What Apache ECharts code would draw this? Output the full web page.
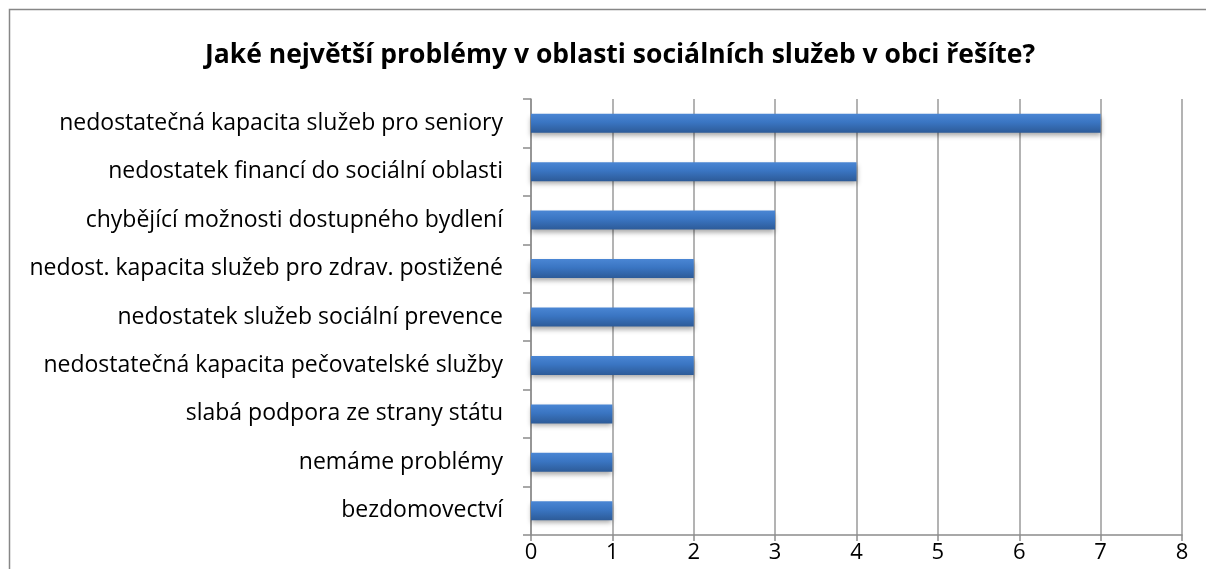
<!DOCTYPE html>
<html>
<head>
<meta charset="utf-8">
<script src="https://cdn.jsdelivr.net/npm/echarts@6/dist/echarts.min.js"></script>
<style>
  html, body { margin: 0; padding: 0; background: #fff; }
  #chart { width: 1206px; height: 569px; }
</style>
</head>
<body>
<div id="chart"></div>
<script>
  // kategorie odshora dolů
  var categories = [
    'nedostatečná kapacita služeb pro seniory',
    'nedostatek financí do sociální oblasti',
    'chybějící možnosti dostupného bydlení',
    'nedost. kapacita služeb pro zdrav. postižené',
    'nedostatek služeb sociální prevence',
    'nedostatečná kapacita pečovatelské služby',
    'slabá podpora ze strany státu',
    'nemáme problémy',
    'bezdomovectví'
  ];
  var values = [7, 4, 3, 2, 2, 2, 1, 1, 1];
  var xTicks = [0, 1, 2, 3, 4, 5, 6, 7, 8];

  var fontName = '"Open Sans", Lato, sans-serif';
  var myChart = echarts.init(document.getElementById('chart'));
  var option = {
    backgroundColor: '#fff',
    animation: false,
    title: {
      text: 'Jaké největší problémy v oblasti sociálních služeb v obci řešíte?',
      left: 615,
      textAlign: 'center',
      top: 37,
      textStyle: {
        fontFamily: fontName,
        fontSize: 26.5,
        fontWeight: 'bold',
        color: '#000'
      }
    },
    graphic: [{
      type: 'rect',
      shape: { x: 9.5, y: 9.5, width: 1220, height: 600 },
      style: { fill: 'none', stroke: '#878787', lineWidth: 1.5 },
      silent: true
    }],
    grid: {
      left: 531,
      right: 24,
      top: 99,
      bottom: 34
    },
    xAxis: {
      type: 'value',
      min: xTicks[0],
      max: xTicks[xTicks.length - 1],
      interval: 1,
      axisLine: { show: true, lineStyle: { color: '#8c8c8c', width: 1.5 } },
      axisTick: { show: true, length: 6, lineStyle: { color: '#8c8c8c', width: 1.5 } },
      splitLine: { show: true, lineStyle: { color: '#9a9a9a', width: 1.5 } },
      axisLabel: {
        fontFamily: fontName,
        fontSize: 22,
        color: '#000',
        margin: 7,
        formatter: function (v) { return xTicks.indexOf(v) >= 0 ? String(v) : ''; }
      }
    },
    yAxis: {
      type: 'category',
      inverse: true,
      data: categories,
      axisLine: { show: true, lineStyle: { color: '#8c8c8c', width: 1.5 } },
      axisTick: { show: true, length: 8, lineStyle: { color: '#8c8c8c', width: 1.5 } },
      axisLabel: {
        fontFamily: fontName,
        fontSize: 23,
        color: '#000',
        margin: 28
      }
    },
    series: [{
      type: 'bar',
      data: values,
      barWidth: 19,
      itemStyle: {
        color: new echarts.graphic.LinearGradient(0, 0, 0, 1, [
          { offset: 0, color: '#4a86d4' },
          { offset: 0.45, color: '#3a75c2' },
          { offset: 1, color: '#2d5b98' }
        ]),
        shadowColor: 'rgba(0,0,0,0.35)',
        shadowBlur: 5,
        shadowOffsetY: 3
      }
    }]
  };
  myChart.setOption(option);
</script>
</body>
</html>
